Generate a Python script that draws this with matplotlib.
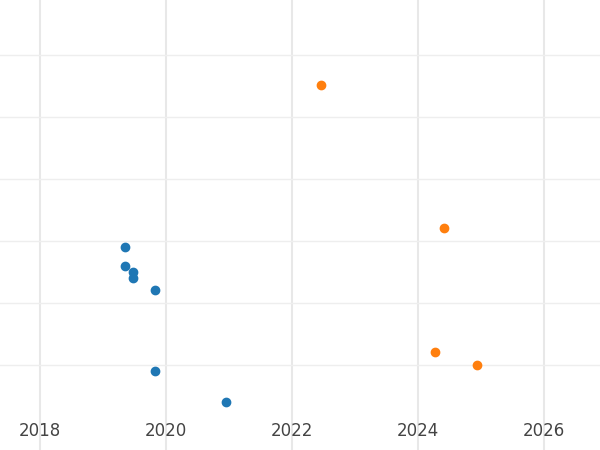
import matplotlib.pyplot as plt

blue_x = [2019.35, 2019.35, 2019.48, 2019.48, 2019.83, 2019.83, 2020.95]
blue_y = [2.90, 2.60, 2.50, 2.40, 2.21, 0.90, 0.40]
orange_x = [2022.46, 2024.41, 2024.27, 2024.94]
orange_y = [5.52, 3.21, 1.21, 1.00]
years = [2018, 2020, 2022, 2024, 2026]

fig = plt.figure(figsize=(6, 4.5), dpi=100)
ax = fig.add_axes([0, 0, 1, 1])
ax.scatter(blue_x, blue_y, s=36, color='#1f77b4', zorder=3)
ax.scatter(orange_x, orange_y, s=36, color='#ff7f0e', zorder=3)

ax.set_xticks(years)
ax.set_yticks([1, 2, 3, 4, 5, 6])
ax.set_yticklabels([])
ax.set_xlim(2017.37, 2026.89)
ax.set_ylim(-0.37, 6.89)
ax.grid(True, which='major', color='#e8e8e8', linewidth=1.5)
ax.grid(True, axis='y', color='#eeeeee', linewidth=1)
ax.tick_params(axis='x', which='both', length=0, pad=-20, labelsize=12, labelcolor='#444444')
ax.tick_params(axis='y', length=0)
for s in ax.spines.values():
    s.set_visible(False)

fig.savefig('out.png')
